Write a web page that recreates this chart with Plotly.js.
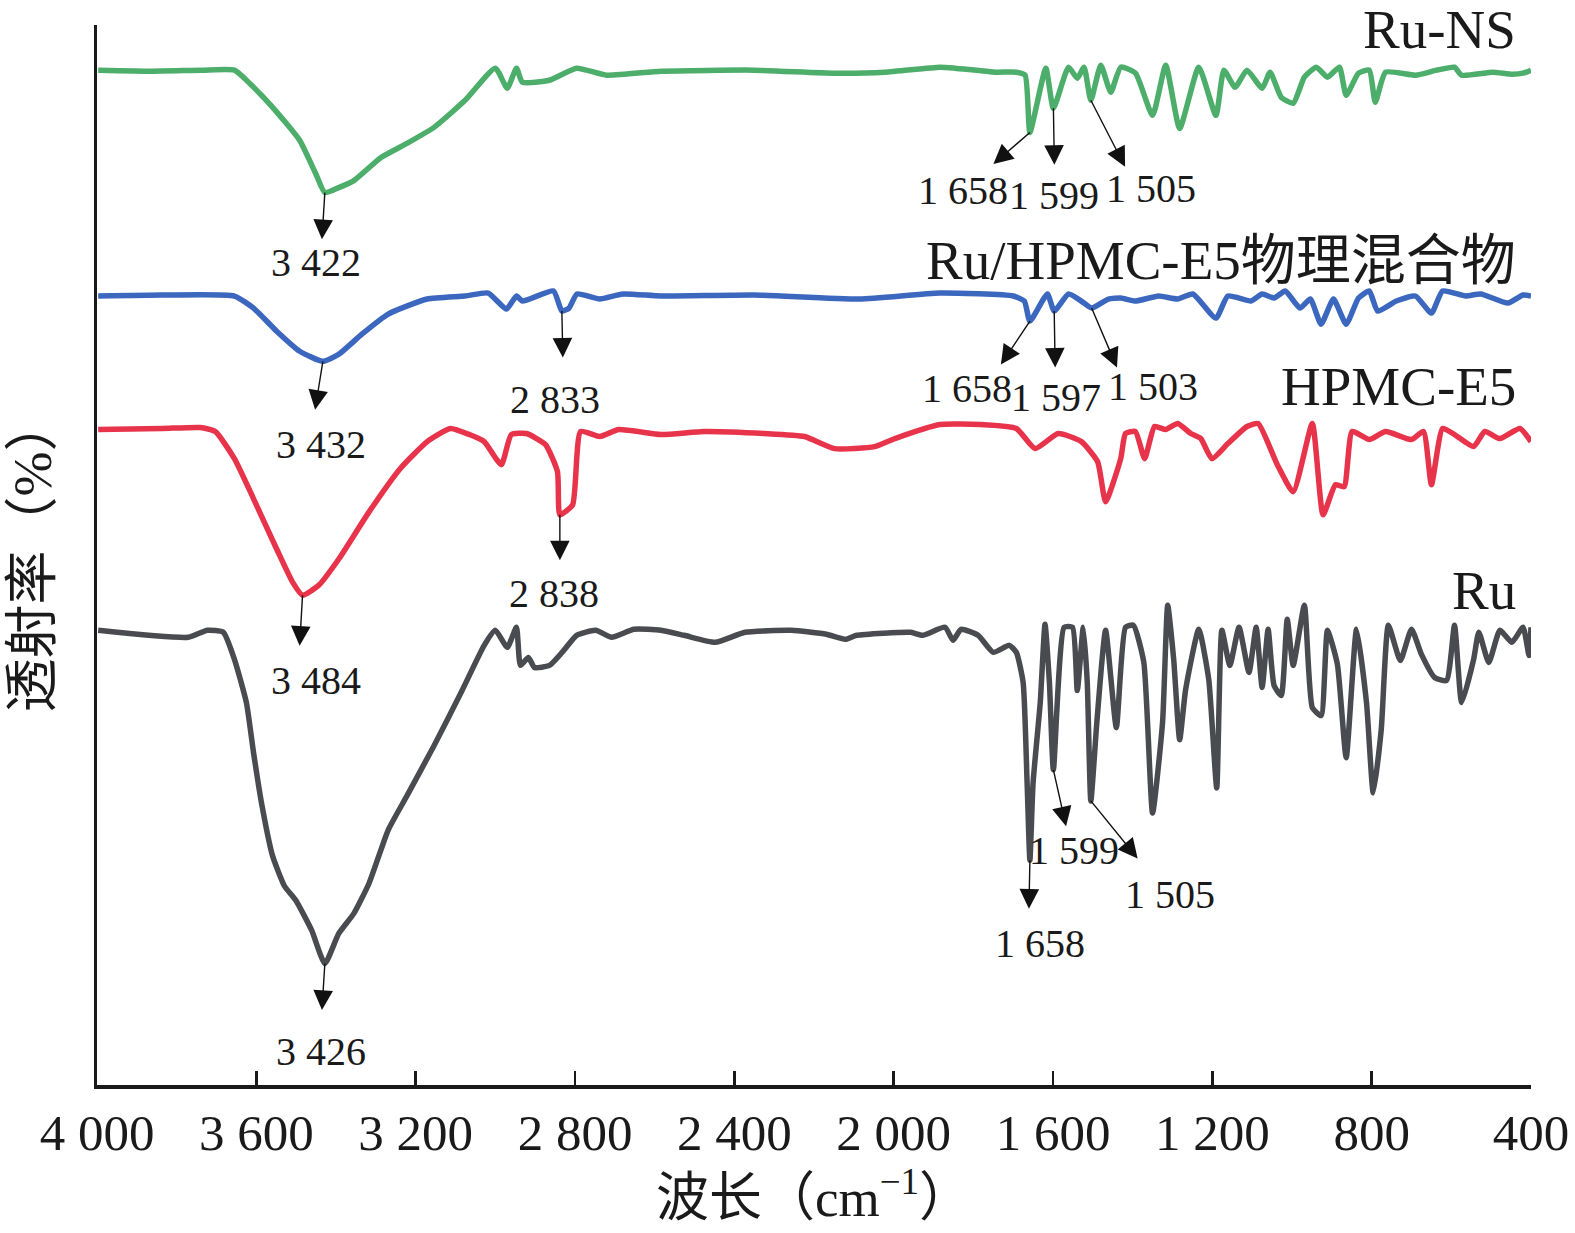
<!DOCTYPE html>
<html>
<head>
<meta charset="utf-8">
<script src="https://cdn.plot.ly/plotly-3.0.1.min.js"></script>
<style>html,body{margin:0;padding:0;background:#fff;overflow:hidden}</style>
</head>
<body>
<div id="chart" style="width:1575px;height:1233px;"></div>
<script>
// wavenumber (cm-1) and transmittance (arbitrary, offset per curve)
var ruNsWn = [3997,3861,3735,3655,3617,3559,3491,3451,3428,3393,3355,3287,3222,3154,3076,3000,2970,2947,2932,2864,2796,2720,2584,2350,2148,2022,1884,1846,1745,1692,1670,1658,1618,1599,1561,1539,1522,1505,1480,1455,1430,1393,1350,1317,1282,1234,1191,1171,1143,1113,1075,1055,1027,997,969,939,911,881,864,833,806,791,765,690,637,592,574,496,448,420,400];
var ruNsT  = [1011,1010,1011,1011,998,974,941,908,889,894,901,924,938,954,981,1013,993,1013,999,1001,1013,1006,1010,1011,1008,1009,1014,1013,1009,1009,1006,949,1013,973,1014,1003,1014,981,1016,989,1014,1008,966,1016,953,1014,966,1011,994,1011,993,1009,984,978,1004,1014,1004,1014,986,1008,1011,979,1009,1006,1011,1014,1006,1009,1007,1008,1011];

var mixWn = [3997,3836,3655,3607,3549,3491,3433,3393,3335,3269,3171,3076,3018,2972,2947,2932,2854,2833,2815,2795,2738,2680,2584,2350,2085,1884,1700,1672,1658,1614,1597,1561,1529,1503,1461,1430,1393,1335,1287,1249,1191,1161,1103,1075,1045,1017,980,954,927,896,864,833,806,785,738,690,650,622,564,526,458,420,400];
var mixT  = [786,787,786,774,751,731,721,728,748,768,783,786,789,773,786,781,791,771,774,788,783,788,786,787,783,789,786,781,761,788,771,788,781,774,783,784,781,786,783,788,764,786,781,788,784,791,774,783,758,783,758,784,791,771,781,786,769,791,786,788,779,787,786];

var hpmcWn = [3997,3836,3741,3703,3655,3607,3549,3509,3484,3443,3393,3317,3239,3171,3113,3065,3028,2985,2960,2922,2874,2844,2838,2806,2786,2738,2690,2584,2476,2325,2224,2148,2048,1997,1884,1783,1692,1645,1587,1529,1488,1468,1430,1418,1393,1370,1345,1317,1287,1254,1229,1201,1161,1113,1085,1037,997,949,922,891,869,849,806,765,700,670,650,622,592,544,516,478,428,400];
var hpmcT  = [653,654,655,651,624,584,534,501,488,498,524,571,614,641,654,648,641,618,648,649,638,611,568,578,651,646,653,648,651,649,646,634,636,644,658,658,654,634,649,641,621,581,624,649,651,624,656,653,659,649,644,624,639,656,659,618,591,659,568,598,596,651,643,651,643,651,598,654,648,636,651,644,654,641];

var ruWn = [3997,3771,3723,3683,3655,3625,3607,3587,3559,3529,3501,3461,3428,3393,3355,3317,3269,3222,3154,3086,3028,3000,2970,2947,2937,2917,2902,2864,2826,2796,2748,2708,2652,2584,2526,2448,2373,2257,2169,2121,2093,1957,1927,1871,1851,1831,1788,1750,1710,1692,1675,1665,1658,1650,1632,1620,1609,1599,1572,1551,1539,1524,1514,1505,1490,1468,1441,1418,1398,1372,1350,1325,1312,1297,1282,1267,1234,1209,1189,1176,1156,1133,1108,1090,1075,1060,1045,1027,1012,997,969,949,927,911,886,864,838,813,796,776,758,728,700,675,642,612,592,574,544,531,506,478,448,420,405,400];
var ruT  = [453,446,453,451,424,381,331,281,228,198,184,154,121,151,171,201,254,288,338,391,438,453,436,456,418,426,416,418,434,448,453,446,454,453,448,441,451,453,449,444,448,451,448,456,443,454,448,431,438,431,401,301,224,301,381,459,401,314,456,456,393,456,401,283,361,453,356,456,458,421,271,361,478,424,344,394,454,404,296,453,418,456,411,456,396,454,398,388,464,418,478,376,368,453,419,326,454,381,291,354,458,423,454,429,406,403,458,381,424,451,421,453,441,456,428,456];

var seriesNames = ["Ru-NS", "Ru/HPMC-E5物理混合物", "HPMC-E5", "Ru"];
var seriesColors = ["#4cae6a", "#3b68be", "#e8344b", "#4a4b50"];

var xTicks = [4000, 3600, 3200, 2800, 2400, 2000, 1600, 1200, 800, 400];
var xTickText = ["4 000", "3 600", "3 200", "2 800", "2 400", "2 000", "1 600", "1 200", "800", "400"];

// marked bands: series index, wavenumber, label
var peakSeries = [0, 0, 0, 0, 1, 1, 1, 1, 1, 2, 2, 3, 3, 3, 3];
var peakWn     = [3422, 1658, 1599, 1505, 3432, 2833, 1658, 1597, 1503, 3484, 2838, 3426, 1658, 1599, 1505];
var peakText   = ["3 422", "1 658", "1 599", "1 505", "3 432", "2 833", "1 658", "1 597", "1 503", "3 484", "2 838", "3 426", "1 658", "1 599", "1 505"];

// pixel offsets of arrow head and label from the band minimum
var headOff = [[-3,48],[-38,33],[1,58],[35,68],[-8,50],[1,48],[-30,45],[1,58],[26,61],[-3,52],[0,47],[-3,48],[-1,50],[13,58],[48,59]];
var textOff = [[-9,70],[-67,58],[1,87],[60,88],[-2,83],[-7,88],[-63,67],[2,86],[61,78],[13,85],[-6,79],[-4,88],[10,83],[21,81],[79,94]];

var allWn = [ruNsWn, mixWn, hpmcWn, ruWn];
var allT = [ruNsT, mixT, hpmcT, ruT];

var FONT = "'Liberation Serif', 'Noto Sans CJK SC', serif";

var traces = [];
for (var s = 0; s < 4; s++) {
  traces.push({
    x: allWn[s],
    y: allT[s],
    type: "scatter",
    mode: "lines",
    name: seriesNames[s],
    line: { color: seriesColors[s], width: 5.5, shape: "spline", smoothing: 0.5 },
    hoverinfo: "x"
  });
}

var annotations = [];
for (var i = 0; i < peakWn.length; i++) {
  var wn = allWn[peakSeries[i]], tt = allT[peakSeries[i]];
  var best = -1;
  for (var k = 0; k < wn.length; k++) {
    if (Math.abs(wn[k] - peakWn[i]) <= 12 && (best < 0 || tt[k] < tt[best])) best = k;
  }
  annotations.push({
    x: wn[best], y: tt[best], xref: "x", yref: "y",
    text: "", showarrow: true, arrowside: "start",
    ax: headOff[i][0], ay: headOff[i][1],
    startarrowhead: 2, startarrowsize: 2.8, arrowwidth: 1.4, arrowcolor: "#111"
  });
  annotations.push({
    x: wn[best], y: tt[best], xref: "x", yref: "y",
    text: peakText[i], showarrow: false,
    xshift: textOff[i][0], yshift: -textOff[i][1],
    xanchor: "center", yanchor: "middle",
    font: { family: FONT, size: 40, color: "#1a1a1a" }
  });
}

var nameY = [0.9953, 0.7775, 0.6591, 0.4669];
for (var n = 0; n < 4; n++) {
  annotations.push({
    x: 0.991, y: nameY[n], xref: "paper", yref: "paper",
    text: seriesNames[n], showarrow: false,
    xanchor: "right", yanchor: "middle",
    font: { family: FONT, size: 55, color: "#1a1a1a" }
  });
}

var layout = {
  width: 1575,
  height: 1233,
  margin: { l: 97, r: 44, t: 25, b: 148 },
  paper_bgcolor: "#fff",
  plot_bgcolor: "#fff",
  showlegend: false,
  font: { family: FONT, color: "#1a1a1a" },
  xaxis: {
    range: [4000, 400],
    tickvals: xTicks,
    ticktext: xTickText,
    ticks: "inside",
    ticklen: 14,
    tickwidth: 2.5,
    tickcolor: "#1a1a1a",
    showline: true,
    linewidth: 4,
    linecolor: "#1a1a1a",
    showgrid: false,
    zeroline: false,
    tickfont: { family: FONT, size: 51, color: "#1a1a1a" },
    title: { text: "波长（cm<sup>−1</sup>）", font: { family: FONT, size: 53, color: "#1a1a1a" }, standoff: 14 }
  },
  yaxis: {
    range: [0, 1056],
    showticklabels: false,
    ticks: "",
    showline: true,
    linewidth: 3,
    linecolor: "#1a1a1a",
    showgrid: false,
    zeroline: false,
    title: { text: "透射率（%）", font: { family: FONT, size: 54, color: "#1a1a1a" }, standoff: 26 }
  },
  annotations: annotations
};

Plotly.newPlot("chart", traces, layout, { displayModeBar: false, staticPlot: true });
</script>
</body>
</html>
